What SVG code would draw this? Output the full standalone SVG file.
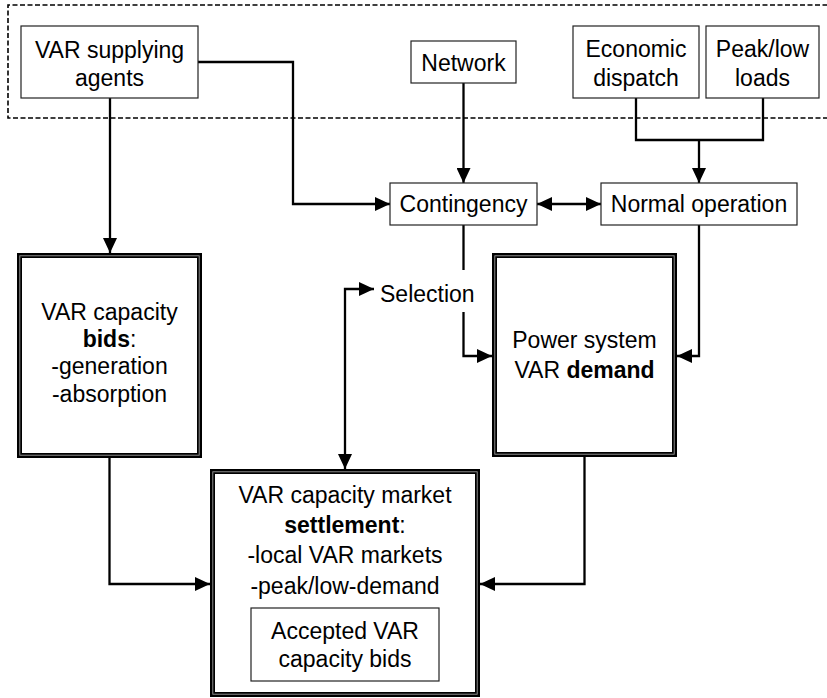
<svg xmlns="http://www.w3.org/2000/svg" width="827" height="698" viewBox="0 0 827 698">
  <style>
    text { font-family: "Liberation Sans", Arial, sans-serif; font-size: 23px; fill: #000; text-anchor: middle; }
    .b { font-weight: bold; }
    .box { fill: #fff; stroke: #222; stroke-width: 1.2; }
    .dbl { fill: #fff; stroke: #000; stroke-width: 5; }
    .dblgap { fill: none; stroke: #9a9a9a; stroke-width: 0.9; }
    .frame { fill: none; stroke: #000; stroke-width: 1.6; stroke-dasharray: 5 2.5; }
    .wire { fill: none; stroke: #000; stroke-width: 2.3; }
    .arrow { marker-end: url(#head); }
    .both { marker-start: url(#head); marker-end: url(#head); }
  </style>
  <defs>
    <marker id="head" markerUnits="userSpaceOnUse" viewBox="0 0 15 14" refX="15" refY="7" markerWidth="15" markerHeight="14" orient="auto-start-reverse">
      <path d="M0,0 L15,7 L0,14 z" fill="#000"/>
    </marker>
  </defs>

  <rect width="827" height="698" fill="#fff"/>

  <!-- dashed frame around the external inputs -->
  <path class="frame" d="M835,5 H8 V118 H835"/>

  <!-- connectors -->
  <g id="connectors">
    <path class="wire arrow" d="M110,98 V253"/>
    <path class="wire arrow" d="M198,62 H293 V204 H390"/>
    <path class="wire arrow" d="M463.5,83 V183"/>
    <path class="wire" d="M636,98 V140 H763 V98"/>
    <path class="wire arrow" d="M699,140 V183"/>
    <path class="wire both" d="M537,204 H601"/>
    <path class="wire" d="M463.5,225 V270"/>
    <path class="wire arrow" d="M463.5,312 V356 H492"/>
    <path class="wire arrow" d="M699,225 V356 H677"/>
    <path class="wire both" d="M374,289 H345 V469"/>
    <path class="wire arrow" d="M109.5,458 V584 H210"/>
    <path class="wire arrow" d="M584.5,457 V584 H480"/>
  </g>

  <g id="var-supplying-agents">
    <rect class="box" x="21" y="26" width="177" height="72"/>
    <text x="109.5" y="58">VAR supplying</text>
    <text x="109.5" y="86">agents</text>
  </g>

  <g id="network">
    <rect class="box" x="411" y="41" width="105" height="42"/>
    <text x="463.5" y="71">Network</text>
  </g>

  <g id="economic-dispatch">
    <rect class="box" x="573" y="26" width="126" height="72"/>
    <text x="636" y="57">Economic</text>
    <text x="636" y="86">dispatch</text>
  </g>

  <g id="peak-low-loads">
    <rect class="box" x="706" y="26" width="113" height="72"/>
    <text x="762.5" y="57">Peak/low</text>
    <text x="762.5" y="86">loads</text>
  </g>

  <g id="contingency">
    <rect class="box" x="390" y="183" width="147" height="42"/>
    <text x="463.5" y="212">Contingency</text>
  </g>

  <g id="normal-operation">
    <rect class="box" x="601" y="183" width="196" height="42"/>
    <text x="699" y="212">Normal operation</text>
  </g>

  <g id="selection">
    <text x="380" y="302" style="text-anchor:start">Selection</text>
  </g>

  <g id="var-capacity-bids">
    <rect class="dbl" x="19.5" y="255.5" width="180" height="200"/>
    <rect class="dblgap" x="19.8" y="255.8" width="179.4" height="199.4"/>
    <text x="109.5" y="320">VAR capacity</text>
    <text x="109.5" y="347"><tspan class="b">bids</tspan>:</text>
    <text x="109.5" y="374">-generation</text>
    <text x="109.5" y="402">-absorption</text>
  </g>

  <g id="power-system-var-demand">
    <rect class="dbl" x="494.5" y="255.5" width="180" height="199"/>
    <rect class="dblgap" x="494.8" y="255.8" width="179.4" height="198.4"/>
    <text x="584.5" y="348">Power system</text>
    <text x="584.5" y="378">VAR <tspan class="b">demand</tspan></text>
  </g>

  <g id="var-capacity-market-settlement">
    <rect class="dbl" x="212.5" y="471.5" width="265" height="223"/>
    <rect class="dblgap" x="212.8" y="471.8" width="264.4" height="222.4"/>
    <text x="345" y="503">VAR capacity market</text>
    <text x="345" y="533"><tspan class="b">settlement</tspan>:</text>
    <text x="345" y="563">-local VAR markets</text>
    <text x="345" y="594">-peak/low-demand</text>
    <g id="accepted-var-capacity-bids">
      <rect class="box" x="251" y="608" width="188" height="73"/>
      <text x="345" y="639">Accepted VAR</text>
      <text x="345" y="667">capacity bids</text>
    </g>
  </g>
</svg>
